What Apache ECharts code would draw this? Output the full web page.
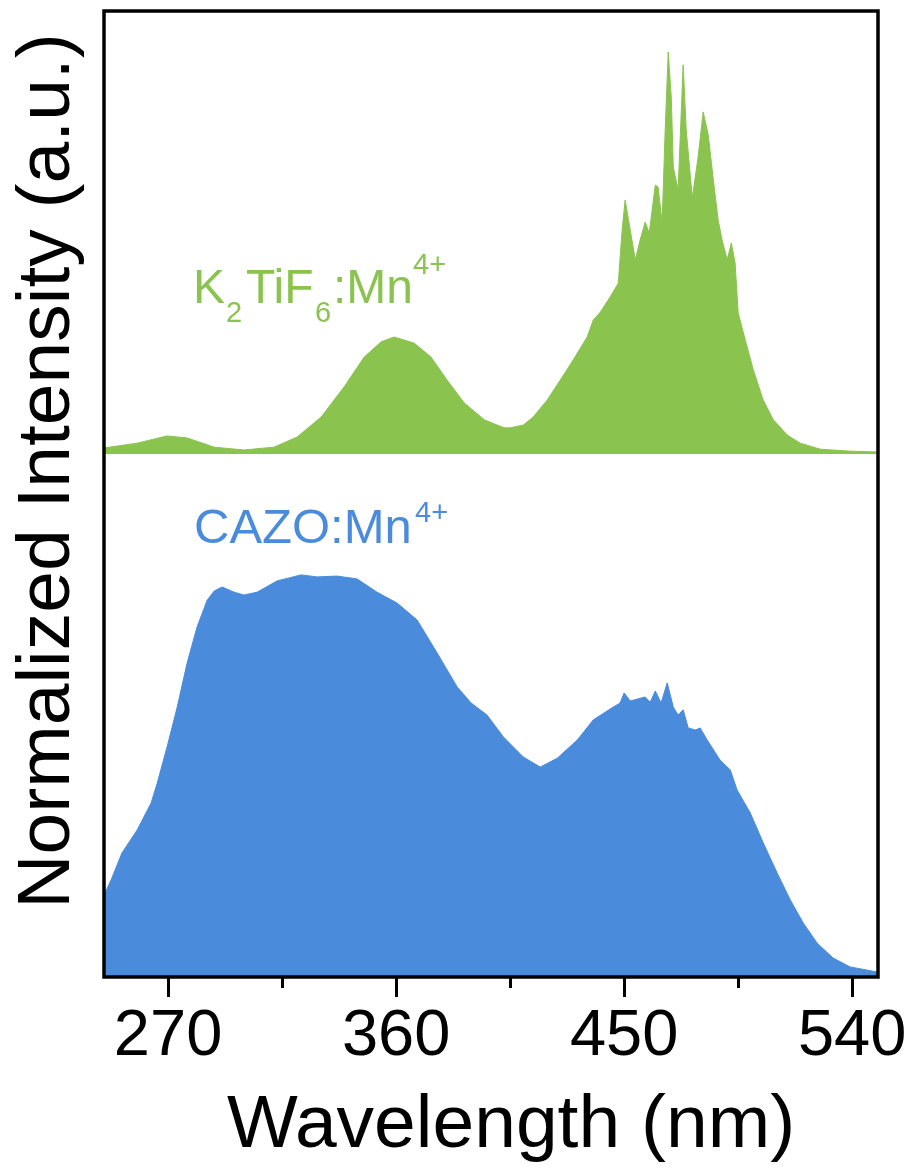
<!DOCTYPE html>
<html>
<head>
<meta charset="utf-8">
<script src="https://cdn.jsdelivr.net/npm/echarts@6/dist/echarts.min.js"></script>
<style>
  html, body { margin: 0; padding: 0; background: #fff; }
  #chart { width: 913px; height: 1169px; }
</style>
</head>
<body>
<div id="chart"></div>
<script>
// K2TiF6:Mn4+ excitation spectrum (top panel)
const greenWavelength = [244.7, 257.8, 269.6, 277.5, 288.2, 300.0, 311.8, 320.9, 330.4, 339.5,
  347.4, 354.1, 359.2, 367.1, 373.8, 380.1, 386.9, 394.8, 402.6, 405.0,
  410.2, 414.1, 419.6, 424.8, 429.9, 435.4, 437.8, 440.6, 444.5, 447.7,
  449.2, 450.4, 452.4, 454.4, 456.3, 458.3, 459.9, 462.3, 463.4, 465.0,
  466.2, 467.4, 468.6, 469.4, 471.3, 473.3, 474.5, 476.9, 479.2, 481.2,
  483.2, 485.2, 487.1, 488.7, 490.7, 492.3, 493.8, 495.0, 497.8, 501.0,
  504.9, 508.9, 514.4, 519.5, 527.4, 539.2, 550.2]
const greenIntensity = [0.015, 0.027, 0.045, 0.040, 0.017, 0.010, 0.017, 0.042, 0.092, 0.167,
  0.241, 0.279, 0.291, 0.276, 0.241, 0.184, 0.127, 0.085, 0.065, 0.065,
  0.072, 0.092, 0.134, 0.184, 0.234, 0.291, 0.333, 0.353, 0.391, 0.425,
  0.557, 0.632, 0.557, 0.483, 0.532, 0.577, 0.550, 0.669, 0.664, 0.575,
  0.806, 1.000, 0.888, 0.714, 0.657, 0.968, 0.806, 0.637, 0.739, 0.851,
  0.794, 0.682, 0.582, 0.532, 0.483, 0.525, 0.475, 0.351, 0.284, 0.209,
  0.134, 0.085, 0.047, 0.027, 0.012, 0.007, 0.005]

// CAZO:Mn4+ excitation spectrum (bottom panel)
const blueWavelength = [244.7, 247.5, 251.8, 257.8, 263.3, 265.7, 269.6, 273.6, 277.5, 281.4,
  285.4, 288.2, 291.3, 296.1, 300.0, 305.1, 313.0, 322.5, 328.8, 336.7,
  344.6, 352.5, 360.4, 368.3, 376.2, 384.1, 389.6, 395.9, 402.3, 410.2,
  416.9, 423.6, 431.5, 437.8, 445.7, 448.4, 450.0, 452.4, 458.3, 460.3,
  462.3, 464.6, 467.0, 469.4, 471.3, 473.3, 475.3, 478.1, 480.0, 482.8,
  487.9, 491.9, 494.6, 499.8, 504.9, 510.4, 515.6, 520.7, 526.2, 532.5,
  539.2, 550.2]
const blueIntensity = [0.203, 0.241, 0.308, 0.365, 0.432, 0.481, 0.571, 0.670, 0.779, 0.868,
  0.935, 0.958, 0.968, 0.955, 0.948, 0.955, 0.983, 0.998, 0.993, 0.995,
  0.988, 0.955, 0.928, 0.886, 0.804, 0.720, 0.680, 0.650, 0.596, 0.546,
  0.521, 0.543, 0.588, 0.638, 0.670, 0.680, 0.705, 0.685, 0.695, 0.682,
  0.710, 0.680, 0.730, 0.670, 0.650, 0.663, 0.618, 0.613, 0.618, 0.588,
  0.538, 0.514, 0.464, 0.407, 0.333, 0.258, 0.191, 0.134, 0.084, 0.047,
  0.025, 0.012]

const majorTicks = [270, 360, 450, 540]
const minorTicks = [315, 405, 495]
const xMin = 244.7
const xMax = 550.2

const green = '#8bc34f'
const blue = '#4a8bdc'
const font = '"Liberation Sans", Arial, sans-serif'

const pairs = (xs, ys) => xs.map((x, i) => [x, ys[i]])

const chart = echarts.init(document.getElementById('chart'))

const option = {
  animation: false,
  backgroundColor: '#fff',
  grid: [
    // frame
    { left: 104, top: 11, width: 774, height: 966, show: true, borderColor: '#000', borderWidth: 3.5, backgroundColor: 'transparent', z: 5 },
    // top panel
    { left: 104, top: 11, width: 774, height: 443 },
    // bottom panel
    { left: 104, top: 454, width: 774, height: 523 }
  ],
  xAxis: [
    {
      gridIndex: 0,
      type: 'value',
      min: xMin,
      max: xMax,
      axisLine: { show: false },
      splitLine: { show: false },
      axisTick: {
        show: true,
        customValues: majorTicks,
        length: 20,
        lineStyle: { color: '#000', width: 3 }
      },
      axisLabel: {
        show: true,
        customValues: majorTicks,
        margin: 28,
        fontSize: 65,
        fontFamily: font,
        color: '#000',
        hideOverlap: false
      }
    },
    {
      gridIndex: 1,
      type: 'value',
      min: xMin,
      max: xMax,
      show: false
    },
    {
      gridIndex: 2,
      type: 'value',
      min: xMin,
      max: xMax,
      axisLine: { show: false },
      splitLine: { show: false },
      axisLabel: { show: false },
      axisTick: {
        show: true,
        customValues: minorTicks,
        length: 11,
        lineStyle: { color: '#000', width: 3 }
      }
    }
  ],
  yAxis: [
    { gridIndex: 0, type: 'value', show: false, min: 0, max: 1 },
    { gridIndex: 1, type: 'value', show: false, min: 0, max: 1.102 },
    { gridIndex: 2, type: 'value', show: false, min: 0, max: 1.298 }
  ],
  series: [
    {
      name: 'K2TiF6:Mn4+',
      type: 'line',
      xAxisIndex: 1,
      yAxisIndex: 1,
      data: pairs(greenWavelength, greenIntensity),
      showSymbol: false,
      symbol: 'none',
      sampling: 'none',
      lineStyle: { color: green, width: 1 },
      areaStyle: { color: green, opacity: 1 }
    },
    {
      name: 'CAZO:Mn4+',
      type: 'line',
      xAxisIndex: 2,
      yAxisIndex: 2,
      data: pairs(blueWavelength, blueIntensity),
      showSymbol: false,
      symbol: 'none',
      sampling: 'none',
      lineStyle: { color: blue, width: 1 },
      areaStyle: { color: blue, opacity: 1 }
    }
  ],
  graphic: [
    // axis titles
    {
      type: 'text',
      x: 48,
      y: 471,
      rotation: Math.PI / 2,
      style: {
        text: 'Normalized Intensity (a.u.)',
        font: '75px ' + font,
        fill: '#000',
        textAlign: 'center',
        textVerticalAlign: 'middle'
      }
    },
    {
      type: 'text',
      x: 511,
      y: 1126,
      style: {
        text: 'Wavelength (nm)',
        font: '75px ' + font,
        fill: '#000',
        textAlign: 'center',
        textVerticalAlign: 'middle'
      }
    },
    // K2TiF6:Mn4+ label
    { type: 'text', x: 193, y: 290, style: { text: 'K', font: '48px ' + font, fill: green, textVerticalAlign: 'middle' } },
    { type: 'text', x: 226, y: 314, style: { text: '2', font: '29px ' + font, fill: green, textVerticalAlign: 'middle' } },
    { type: 'text', x: 246, y: 290, style: { text: 'TiF', font: '48px ' + font, fill: green, textVerticalAlign: 'middle' } },
    { type: 'text', x: 315, y: 314, style: { text: '6', font: '29px ' + font, fill: green, textVerticalAlign: 'middle' } },
    { type: 'text', x: 333, y: 290, style: { text: ':Mn', font: '48px ' + font, fill: green, textVerticalAlign: 'middle' } },
    { type: 'text', x: 413, y: 266, style: { text: '4+', font: '29px ' + font, fill: green, textVerticalAlign: 'middle' } },
    // CAZO:Mn4+ label
    { type: 'text', x: 194, y: 529, style: { text: 'CAZO:Mn', font: '49px ' + font, fill: blue, textVerticalAlign: 'middle' } },
    { type: 'text', x: 415, y: 514, style: { text: '4+', font: '29px ' + font, fill: blue, textVerticalAlign: 'middle' } }
  ]
}

chart.setOption(option)
window.addEventListener('resize', () => chart.resize())
</script>
</body>
</html>
